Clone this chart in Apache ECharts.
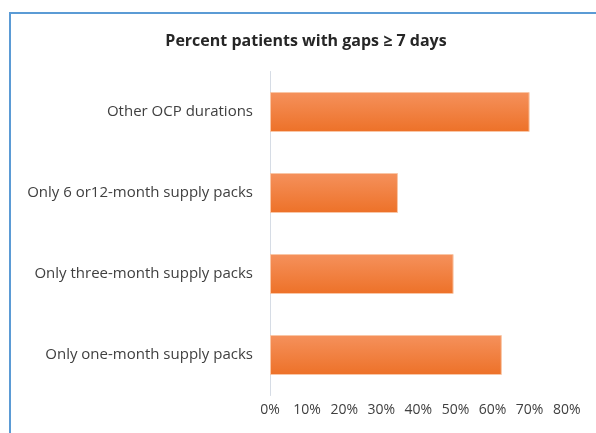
<!DOCTYPE html>
<html>
<head>
<meta charset="utf-8">
<script src="https://cdn.jsdelivr.net/npm/echarts@6/dist/echarts.min.js"></script>
<style>
html,body{margin:0;padding:0;background:#fff;}
#chart{width:596px;height:433px;}
</style>
</head>
<body>
<div id="chart"></div>
<script>
var categories = ["Only one-month supply packs", "Only three-month supply packs", "Only 6 or12-month supply packs", "Other OCP durations"];
var values = [62.5, 49.5, 34.5, 70];
var tickMax = 80;
var tickStep = 10;
var titleText = "Percent patients with gaps \u2265 7 days";

var chart = echarts.init(document.getElementById('chart'));
chart.setOption({
  animation: false,
  backgroundColor: '#ffffff',
  title: {
    text: titleText,
    left: 301,
    top: 28,
    textAlign: 'center',
    textStyle: {fontFamily: 'Open Sans', fontWeight: 'bold', fontSize: 16, color: '#262626'}
  },
  graphic: [{
    type: 'rect',
    shape: {x: 10, y: 13, width: 800, height: 800},
    style: {fill: 'none', stroke: '#5B9BD5', lineWidth: 2},
    silent: true
  }],
  grid: {left: 270, right: 29.3, top: 71.5, bottom: 37.5, containLabel: false},
  xAxis: {
    type: 'value',
    min: 0, max: tickMax, interval: tickStep,
    axisLine: {show: false},
    axisTick: {show: false},
    splitLine: {show: false},
    axisLabel: {
      formatter: function(v){return v + '%';},
      fontFamily: 'Open Sans', fontSize: 14, color: '#404040', margin: 8
    }
  },
  yAxis: {
    type: 'category',
    data: categories,
    axisLine: {show: true, lineStyle: {color: '#D6DCE5', width: 1}},
    axisTick: {show: false},
    axisLabel: {fontFamily: 'Open Sans', fontSize: 15, color: '#404040', margin: 17}
  },
  series: [{
    type: 'bar',
    data: values,
    barWidth: 40,
    itemStyle: {
      color: new echarts.graphic.LinearGradient(0, 0, 0, 1, [
        {offset: 0, color: '#F5915C'},
        {offset: 1, color: '#ED7128'}
      ]),
      borderColor: '#F9C6A6',
      borderWidth: 1
    }
  }]
});
</script>
</body>
</html>
